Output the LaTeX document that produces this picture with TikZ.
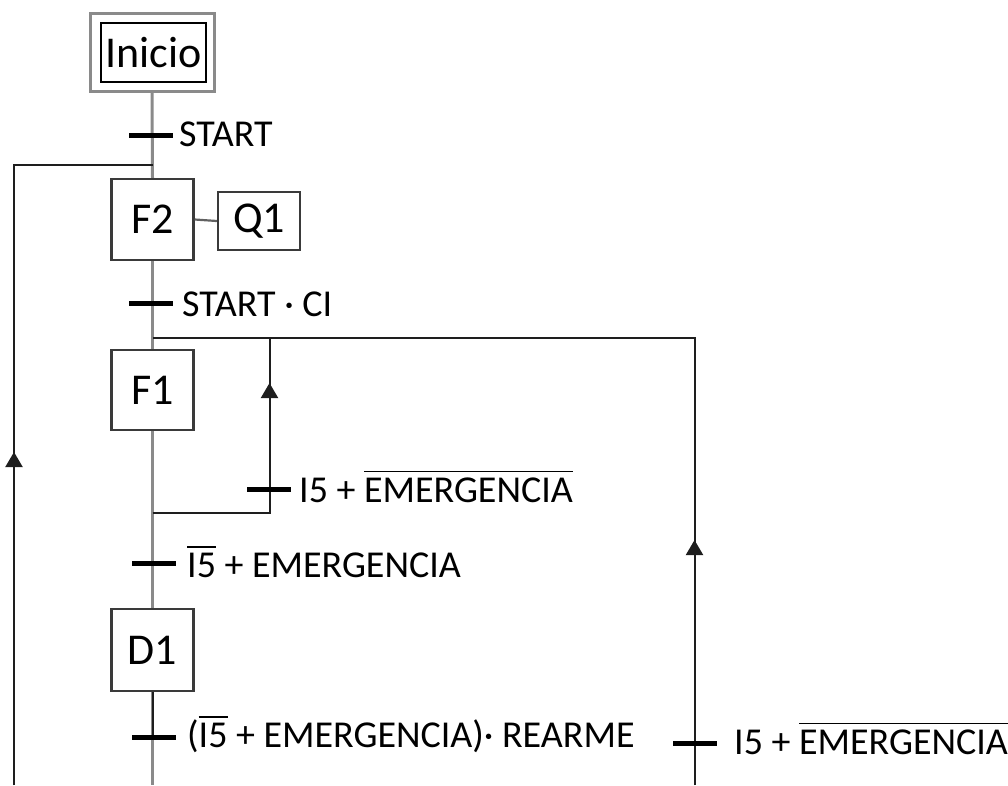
\documentclass[tikz,border=0pt]{standalone}
\usepackage{fontspec}
\setmainfont{Carlito}
\usetikzlibrary{arrows.meta}
\definecolor{maingray}{HTML}{8A8A8A}
\definecolor{boxc}{HTML}{3A3A3A}
\definecolor{linec}{HTML}{1E1E1E}
% negated signal: text with a bar over it
\newcommand\negbar[1]{\leavevmode\vbox{\hrule height 1.4pt\kern 5pt\hbox{#1}}}
\begin{document}
\begin{tikzpicture}[x=1pt,y=-1pt,
  stepbox/.style={draw=boxc, line width=2.4pt, minimum width=82pt, minimum height=81pt,
    inner sep=0pt, font=\fontsize{44}{48}\selectfont},
  trbar/.style={fill=black, minimum width=44pt, minimum height=5pt, inner sep=0pt},
  cond/.style={anchor=base west, inner sep=0pt, font=\fontsize{38}{42}\selectfont},
  mainline/.style={draw=maingray, line width=3pt},
  loopline/.style={draw=linec, line width=2pt},
  uparrow/.style={draw=linec, line width=2pt, -{Triangle[length=15pt,width=17pt]}}
]
\useasboundingbox (0,0) rectangle (1008,785);

% initial step
\node[draw=maingray, line width=3pt, minimum width=124pt, minimum height=78pt, inner sep=0pt] (inio) at (152,52) {};
\node[draw=black, line width=2.2pt, minimum width=105pt, minimum height=59pt, inner sep=0pt,
  font=\fontsize{44}{48}\selectfont] (ini) at (153.5,52.5) {Inicio};

% steps
\node[stepbox] (f2) at (152.5,219.5) {F2};
\node[stepbox, minimum height=58pt] (q1) at (259,221) {Q1};
\node[stepbox, minimum height=80pt] (f1) at (152.5,390) {F1};
\node[stepbox, minimum height=82pt] (d1) at (152.5,650) {D1};

% junction and end points
\coordinate (lb) at (14,785);
\coordinate (lc) at (14,165);
\coordinate (lj) at (152.5,165);
\coordinate (la) at (14,452);
\coordinate (rb) at (694.5,785);
\coordinate (rc) at (694.5,338);
\coordinate (rj) at (152.5,338);
\coordinate (ra) at (694.5,540);
\coordinate (ij) at (152.5,513);
\coordinate (ic) at (269.5,513);
\coordinate (it) at (269.5,338);
\coordinate (ia) at (269.5,383);
\coordinate (mb) at (152.5,785);

% main sequence
\draw[mainline] (inio.south) -- (f2.north);
\draw[mainline] (f2.south) -- (f1.north);
\draw[mainline] (f1.south) -- (d1.north);
\draw[mainline] (d1.south) -- (mb);
\draw[loopline] (d1.south) -- (152.5,737);
\draw[draw=boxc!80!white, line width=2.2pt] (f2.east) -- (q1.west);

% return paths
\draw[loopline] (lb) -- (lc) -- (lj);
\draw[uparrow] (lb) -- (la);
\draw[loopline] (rb) -- (rc) -- (rj);
\draw[uparrow] (rb) -- (ra);
\draw[loopline] (ij) -- (ic) -- (it);
\draw[uparrow] (ic) -- (ia);

% transitions
\node[trbar] (t1) at (150.5,135) {};
\node[trbar] (t2) at (151,303) {};
\node[trbar] (t3) at (268.5,489) {};
\node[trbar] (t4) at (153.5,563) {};
\node[trbar] (t5) at (154,737) {};
\node[trbar] (t6) at (694.5,743) {};

% receptivities
\node[cond] (c1) at (179,146) {START};
\node[cond] (c2) at (182,316) {START · CI};
\node[cond] (c3) at (299,502) {I5 + \negbar{EMERGENCIA}};
\node[cond] (c4) at (187,577) {\negbar{I5} + EMERGENCIA};
\node[cond] (c5) at (187,747) {(\negbar{I5} + EMERGENCIA)· REARME};
\node[cond] (c6) at (734,754) {I5 + \negbar{EMERGENCIA}};
\end{tikzpicture}
\end{document}
